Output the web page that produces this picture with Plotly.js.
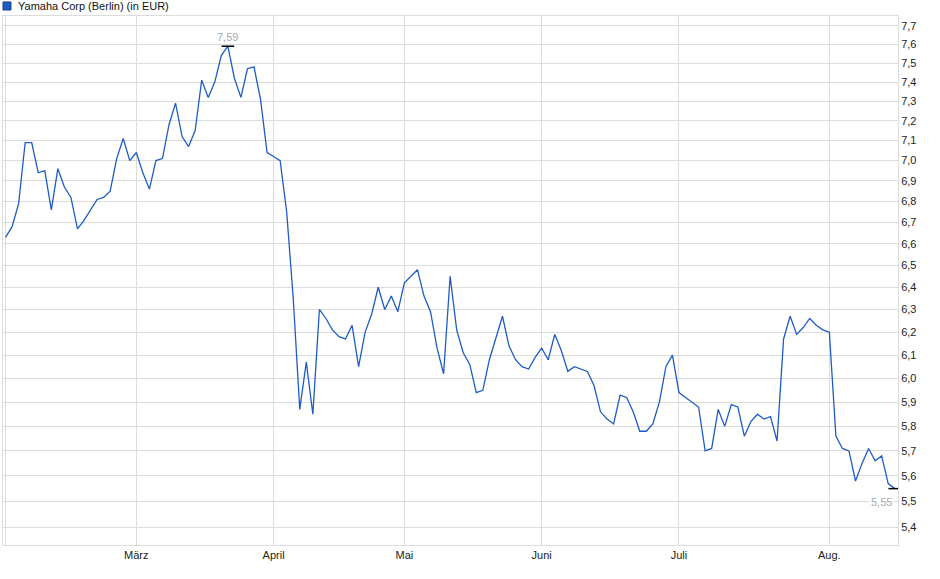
<!DOCTYPE html>
<html>
<head>
<meta charset="utf-8">
<script src="https://cdn.plot.ly/plotly-3.0.1.min.js"></script>
<style>
html,body{margin:0;padding:0;background:#fff;}
#chart{width:940px;height:579px;}
</style>
</head>
<body>
<div id="chart"></div>
<script>
// Daily closing prices (trading days, Feb - mid Aug), EUR
const prices = [
  6.63, 6.68, 6.79, 7.09, 7.09, 6.94, 6.95, 6.76, 6.96, 6.87,
  6.82, 6.67, 6.71, 6.76, 6.81, 6.82, 6.85, 7.01, 7.11, 7.00,
  7.04, 6.94, 6.86, 7.00, 7.01, 7.18, 7.29, 7.12, 7.07, 7.15,
  7.41, 7.32, 7.40, 7.54, 7.59, 7.42, 7.32, 7.47, 7.48, 7.31,
  7.04, 7.02, 7.00, 6.75, 6.35, 5.87, 6.07, 5.85, 6.30, 6.26,
  6.21, 6.18, 6.17, 6.23, 6.05, 6.20, 6.28, 6.40, 6.30, 6.36,
  6.29, 6.42, 6.45, 6.48, 6.36, 6.29, 6.13, 6.02, 6.45, 6.21,
  6.11, 6.06, 5.94, 5.95, 6.08, 6.17, 6.27, 6.14, 6.08, 6.05,
  6.04, 6.09, 6.13, 6.08, 6.19, 6.12, 6.03, 6.05, 6.04, 6.03,
  5.97, 5.86, 5.83, 5.81, 5.93, 5.92, 5.86, 5.78, 5.78, 5.81,
  5.90, 6.05, 6.10, 5.94, 5.92, 5.90, 5.88, 5.70, 5.71, 5.87,
  5.80, 5.89, 5.88, 5.76, 5.82, 5.85, 5.83, 5.84, 5.74, 6.17,
  6.27, 6.19, 6.22, 6.26, 6.23, 6.21, 6.20, 5.76, 5.71, 5.70,
  5.58, 5.65, 5.71, 5.66, 5.68, 5.57, 5.55
];
// Month gridlines (trading-day index of first day of month)
const monthIndex = [0, 20, 41, 61, 82, 103, 126];
const monthLabels = ['', 'März', 'April', 'Mai', 'Juni', 'Juli', 'Aug.'];
// Price axis ticks
const priceTicks = [5.4, 5.5, 5.6, 5.7, 5.8, 5.9, 6.0, 6.1, 6.2, 6.3, 6.4, 6.5, 6.6, 6.7, 6.8, 6.9, 7.0, 7.1, 7.2, 7.3, 7.4, 7.5, 7.6, 7.7];
const priceTickLabels = ['5,4','5,5','5,6','5,7','5,8','5,9','6,0','6,1','6,2','6,3','6,4','6,5','6,6','6,7','6,8','6,9','7,0','7,1','7,2','7,3','7,4','7,5','7,6','7,7'];
const seriesName = 'Yamaha Corp (Berlin) (in EUR)';

const idx = prices.map((_, i) => i);
const maxI = prices.indexOf(Math.max.apply(null, prices));
const lastI = prices.length - 1;
const fmt = v => v.toFixed(2).replace('.', ',');

const font = {family: 'Liberation Sans, Arial, sans-serif', size: 11, color: '#222'};
const gridC = '#dcdcdc';

const traces = [
  {x: idx, y: prices, type: 'scatter', mode: 'lines',
   line: {color: '#1f5bc6', width: 1.3}, hoverinfo: 'skip', showlegend: false},
  {x: [maxI, lastI], y: [prices[maxI], prices[lastI]], type: 'scatter', mode: 'markers',
   marker: {symbol: 'line-ew', size: 9, line: {color: '#000', width: 1.5}},
   hoverinfo: 'skip', showlegend: false}
];

const layout = {
  width: 940, height: 579,
  margin: {l: 3, r: 42, t: 16, b: 34},
  paper_bgcolor: '#fff', plot_bgcolor: '#fff',
  font: font,
  showlegend: false,
  xaxis: {
    type: 'linear', range: [-0.39, 136.5],
    tickmode: 'array', tickvals: monthIndex, ticktext: monthLabels,
    showgrid: true, gridcolor: gridC, gridwidth: 1,
    zeroline: false, showline: true, linecolor: gridC, linewidth: 1, mirror: true,
    ticks: '', tickfont: font
  },
  yaxis: {
    type: 'log', side: 'right',
    range: [Math.log10(5.333), Math.log10(7.754)],
    tickmode: 'array', tickvals: priceTicks, ticktext: priceTickLabels,
    showgrid: true, gridcolor: gridC, gridwidth: 1,
    zeroline: false, showline: true, linecolor: gridC, linewidth: 1, mirror: true,
    ticks: '', tickfont: font
  },
  shapes: [
    {type: 'rect', xref: 'paper', yref: 'paper', x0: 0, x1: 0.0089, y0: 1.0113, y1: 1.0265,
     fillcolor: '#1f5bc6', line: {color: '#1a3f80', width: 1}}
  ],
  annotations: [
    {xref: 'paper', yref: 'paper', x: 0.0145, y: 1.0189, xanchor: 'left', yanchor: 'middle',
     text: seriesName, showarrow: false, font: {family: font.family, size: 11, color: '#111'}},
    {x: maxI, y: Math.log10(prices[maxI]), text: fmt(prices[maxI]), showarrow: false,
     yanchor: 'bottom', yshift: 1, font: {family: font.family, size: 11, color: '#a3abb8'}},
    {x: lastI, y: Math.log10(prices[lastI]), text: fmt(prices[lastI]), showarrow: false,
     xanchor: 'right', yanchor: 'top', xshift: -1, yshift: -5, bgcolor: '#fff',
     font: {family: font.family, size: 11, color: '#a3abb8'}}
  ]
};

Plotly.newPlot('chart', traces, layout, {staticPlot: true, displayModeBar: false});
</script>
</body>
</html>
